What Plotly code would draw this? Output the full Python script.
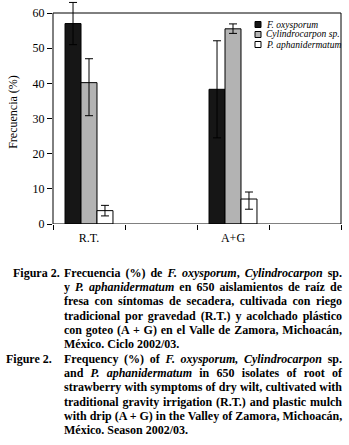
import plotly.graph_objects as go

categories = ["R.T.", "A+G"]
series_names = ["F. oxysporum", "Cylindrocarpon sp.", "P. aphanidermatum"]
values = {
    "F. oxysporum": [57, 38.3],
    "Cylindrocarpon sp.": [40.2, 55.5],
    "P. aphanidermatum": [3.8, 7.1],
}
err_plus = {
    "F. oxysporum": [6, 13.8],
    "Cylindrocarpon sp.": [6.8, 1.4],
    "P. aphanidermatum": [1.5, 2.0],
}
err_minus = {
    "F. oxysporum": [6, 13.8],
    "Cylindrocarpon sp.": [9.4, 1.3],
    "P. aphanidermatum": [1.5, 2.9],
}
colors = ["#161616", "#b3b3b3", "#ffffff"]
y_ticks = [0, 10, 20, 30, 40, 50, 60]
y_max = 60

caption_es = [
    "Frecuencia (%) de <i>F. oxysporum</i>, <i>Cylindrocarpon</i> sp.",
    "y <i>P. aphanidermatum</i> en 650 aislamientos de raíz de",
    "fresa con síntomas de secadera, cultivada con riego",
    "tradicional por gravedad (R.T.) y acolchado plástico",
    "con goteo (A + G) en el Valle de Zamora, Michoacán,",
    "México. Ciclo 2002/03.",
]
caption_en = [
    "Frequency (%) of <i>F. oxysporum, Cylindrocarpon</i> sp.",
    "and <i>P. aphanidermatum</i> in 650 isolates of root of",
    "strawberry with symptoms of dry wilt, cultivated with",
    "traditional gravity irrigation (R.T.) and plastic mulch",
    "with drip (A + G) in the Valley of Zamora, Michoacán,",
    "México. Season 2002/03.",
]

W, H = 349, 445
L, R, T, B = 53, 8, 0, 221
PW, PH = W - L - R, H - T - B
TOP_PX = 13  # pixel row of the 60 line

def px(xp):
    return (xp - L) / PW

def py(yp):
    return (H - B - yp) / PH

y_range_top = y_max * PH / (PH - TOP_PX)

xpos = [0.5 + 2 * i for i in range(len(categories))]
bw = 0.222

fig = go.Figure()
for k, name in enumerate(series_names):
    fig.add_trace(go.Bar(
        x=xpos, y=values[name], name=name, showlegend=False,
        width=bw, offset=-1.5 * bw + k * bw,
        marker=dict(color=colors[k], line=dict(color="black", width=1)),
        error_y=dict(type="data", symmetric=False, array=err_plus[name],
                     arrayminus=err_minus[name], color="black",
                     thickness=1, width=4),
    ))

serif = "Liberation Serif"
fig.update_layout(
    width=W, height=H,
    margin=dict(l=L, r=R, t=T, b=B),
    paper_bgcolor="white", plot_bgcolor="white",
    barmode="overlay",
    font=dict(family=serif, color="black", size=12),
    xaxis=dict(range=[0, 4], tickvals=xpos, ticktext=categories, ticks="",
               showline=False, showgrid=False, zeroline=False,
               ticklabelstandoff=5,
               minor=dict(tickvals=[0, 1, 2, 3, 4], ticks="outside",
                          ticklen=5, tickcolor="black", tickwidth=1),
               tickfont=dict(family=serif, size=12)),
    yaxis=dict(range=[0, y_range_top], tickvals=y_ticks,
               ticks="outside", ticklen=5, tickcolor="black",
               showline=False, showgrid=False, zeroline=False,
               title=dict(text="Frecuencia (%)", font=dict(family=serif, size=12), standoff=12),
               tickfont=dict(family=serif, size=12)),
)

shapes = [dict(type="rect", xref="paper", yref="y", x0=0, x1=1, y0=0, y1=y_max,
               line=dict(color="black", width=1), fillcolor="rgba(0,0,0,0)",
               layer="above")]
ann = []
for k, name in enumerate(series_names):
    yc = 24.5 + 10 * k
    shapes.append(dict(type="rect", xref="paper", yref="paper",
                       x0=px(255), x1=px(261), y0=py(yc + 3), y1=py(yc - 3),
                       fillcolor=colors[k], line=dict(color="black", width=1)))
    ann.append(dict(x=px(263.5), y=py(yc), xref="paper", yref="paper",
                    text="<i>" + name + "</i>", showarrow=False,
                    xanchor="left", yanchor="middle", align="left",
                    font=dict(family=serif, size=9.5, color="black")))

line_h = 14.2
justify_idx = []
for label, lines, y0, lx in [("Figura 2.", caption_es, 273, 11), ("Figure 2.", caption_en, 359, 4)]:
    ann.append(dict(x=px(lx), y=py(y0), xref="paper", yref="paper",
                    text="<b>" + label + "</b>", showarrow=False,
                    xanchor="left", yanchor="middle", align="left",
                    font=dict(family=serif, size=12, color="black")))
    for i, t in enumerate(lines):
        if i < len(lines) - 1:
            justify_idx.append(len(ann))
        ann.append(dict(x=px(62), y=py(y0 + i * line_h), xref="paper", yref="paper",
                        text="<b>" + t + "</b>", showarrow=False,
                        xanchor="left", yanchor="middle", align="left",
                        font=dict(family=serif, size=12, color="black")))
fig.update_layout(annotations=ann, shapes=shapes)

target_w = 278
post = """
document.body.style.margin='0';
var gd=document.getElementById('{plot_id}');
var J=%s;
gd.querySelectorAll('g.annotation').forEach(function(g){
  var i=+g.getAttribute('data-index');
  if(J.indexOf(i)<0) return;
  var t=g.querySelector('text.annotation-text');
  if(!t) return;
  var n=(t.textContent.match(/ /g)||[]).length;
  var w=t.getComputedTextLength();
  if(n>0 && w<%d){t.style.wordSpacing=((%d-w)/n)+'px';}
});
""" % (str(justify_idx), target_w, target_w)

fig.write_html("out.html", post_script=post, config={"displayModeBar": False})
